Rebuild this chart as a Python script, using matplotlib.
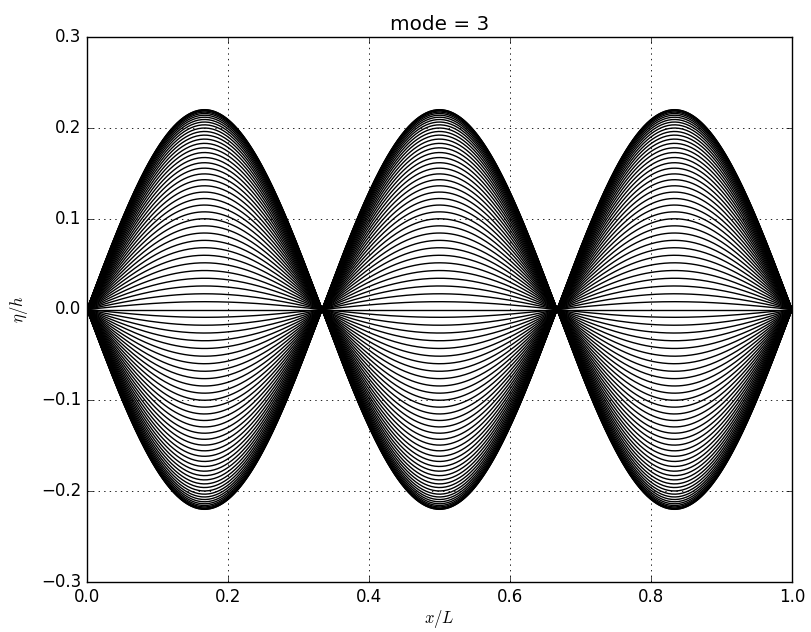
import numpy as np
import matplotlib
matplotlib.use("Agg")
import matplotlib.pyplot as plt

plt.style.use("classic")

mode = 3
x_ticks = [0.0, 0.2, 0.4, 0.6, 0.8, 1.0]
y_ticks = [-0.3, -0.2, -0.1, 0.0, 0.1, 0.2, 0.3]
# amplitude of each snapshot (upper half; mirrored for lower half)
amp_upper = [0.2200, 0.2198, 0.2193, 0.2185, 0.2173, 0.2158, 0.2139, 0.2117,
             0.2092, 0.2064, 0.2033, 0.1998, 0.1960, 0.1920, 0.1876, 0.1829,
             0.1780, 0.1728, 0.1673, 0.1616, 0.1556, 0.1493, 0.1429, 0.1362,
             0.1293, 0.1222, 0.1150, 0.1075, 0.0999, 0.0921, 0.0842, 0.0761,
             0.0680, 0.0597, 0.0514, 0.0429, 0.0344, 0.0259, 0.0173, 0.0086,
             0.0]
amplitudes = amp_upper + [-a for a in amp_upper[::-1][1:]]

x = np.linspace(0, 1, 400)
shape = np.sin(mode * np.pi * x)

fig = plt.figure(figsize=(8.11, 6.32), dpi=100)
ax = fig.add_axes([87/811, 1-582/632, (792-87)/811, (582-37)/632])
for a in amplitudes:
    ax.plot(x, a * shape, color="black", lw=1.0)
ax.set_xlim(0, 1)
ax.set_ylim(-0.3, 0.3)
ax.set_xticks(x_ticks)
ax.set_yticks(y_ticks)
ax.grid(True, color="black", linestyle=":", linewidth=0.6)
ax.set_xlabel(r"$x/L$", labelpad=1.5)
ax.set_ylabel(r"$\eta/h$", labelpad=8)
ax.set_title("mode = %d" % mode)
fig.savefig("out.png", dpi=100)
